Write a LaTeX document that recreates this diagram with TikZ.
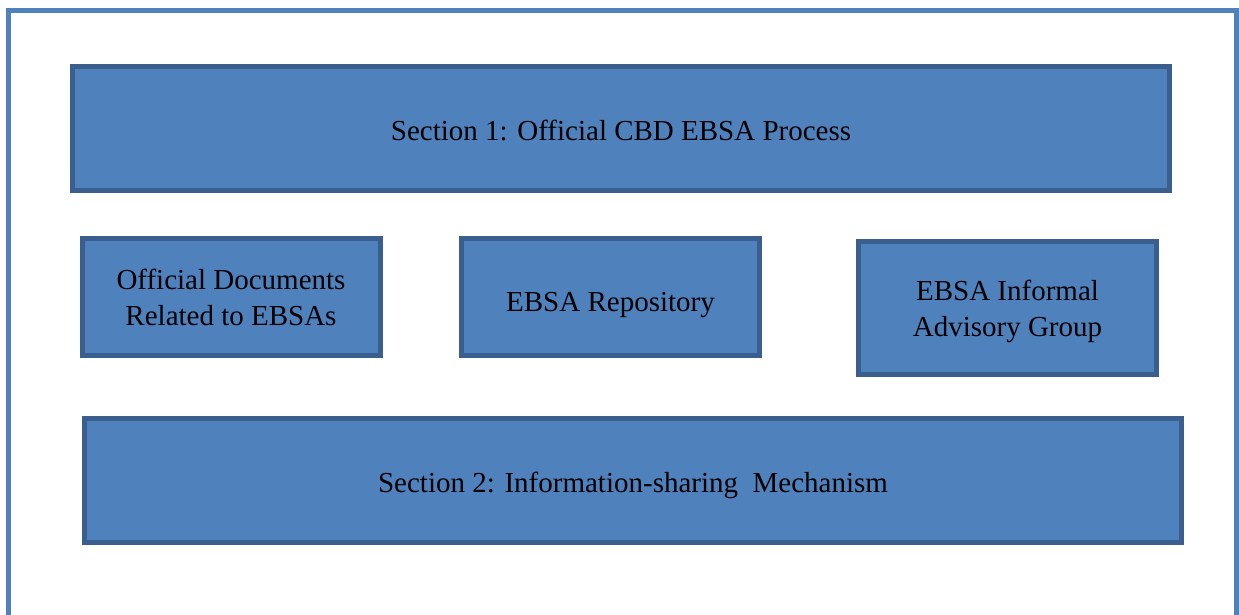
\documentclass[tikz,border=0pt]{standalone}
\usepackage{fontspec}
\setmainfont{Liberation Serif}
\definecolor{boxfill}{HTML}{4F81BD}
\definecolor{boxline}{HTML}{3A5F8E}
\definecolor{frameline}{HTML}{4F81BD}
\begin{document}
\begin{tikzpicture}[x=1pt,y=-1pt,
    section/.style={draw=boxline,fill=boxfill,line width=5pt,minimum width=1097pt,minimum height=123pt,
      text height=29pt,text depth=6pt,font=\fontsize{29}{36}\selectfont},
    part/.style={draw=boxline,fill=boxfill,line width=5pt,minimum width=298pt,minimum height=117pt,
      align=center,font=\fontsize{29}{36}\selectfont}]
    \useasboundingbox (0,0) rectangle (1239,615);
    \draw[frameline,line width=5pt] (8.5,700) -- (8.5,10.5) -- (1236.5,10.5) -- (1236.5,700);
    \node[section] (sec1) at (621,128.5) {Section 1: Official CBD EBSA Process};
    \node[part] (docs) at (231,297) {Official Documents\\Related to EBSAs};
    \node[part,text height=34pt,text depth=6pt] (repo) at (610.5,297) {EBSA Repository};
    \node[part,minimum height=133pt] (advice) at (1007.5,308) {};
    \node[align=center,font=\fontsize{29}{36}\selectfont] (advicelabel) at ([yshift=-3pt]advice.center)
      {EBSA Informal\\Advisory Group};
    \node[section,minimum height=124pt] (sec2) at (633,480.5) {Section 2: Information-sharing\ \ Mechanism};
\end{tikzpicture}
\end{document}
